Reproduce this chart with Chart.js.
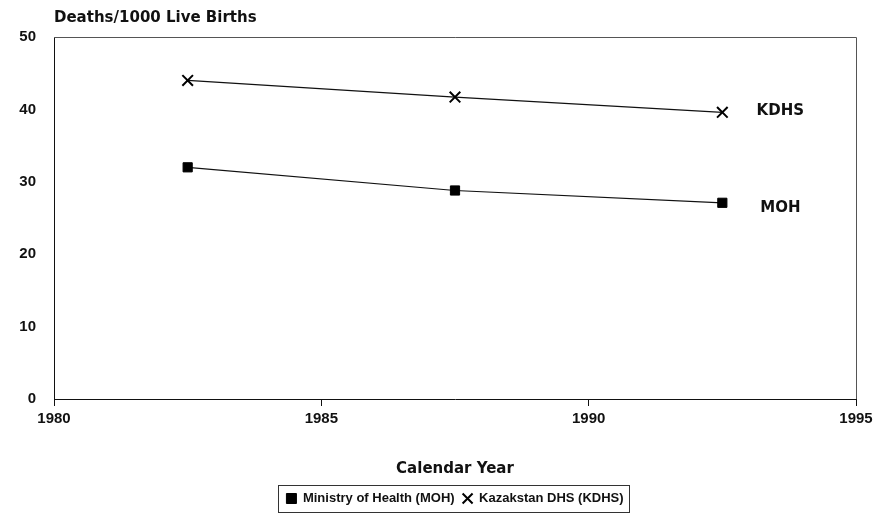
<!DOCTYPE html>
<html>
<head>
<meta charset="utf-8">
<script src="https://cdn.jsdelivr.net/npm/chart.js@4/dist/chart.umd.min.js"></script>
<style>
html,body{margin:0;padding:0;background:#fff;}
#wrap{width:877px;height:515px;}
</style>
</head>
<body>
<div id="wrap"><canvas id="c" width="877" height="515"></canvas></div>
<script>
const years = [1982.5, 1987.5, 1992.5];
const mohValues = [32.0, 28.8, 27.1];
const kdhsValues = [44.0, 41.7, 39.6];
const seriesNames = ['Ministry of Health (MOH)', 'Kazakstan DHS (KDHS)'];
const endLabels = ['MOH', 'KDHS'];
const yTicks = [0, 10, 20, 30, 40, 50];
const xTicks = [1980, 1985, 1990, 1995];
const yTitle = 'Deaths/1000 Live Births';
const xTitle = 'Calendar Year';

const toPts = (xs, ys) => xs.map((x, i) => ({x: x, y: ys[i]}));

const framePlugin = {
  id: 'frame',
  afterDraw(chart) {
    const {ctx, chartArea: a} = chart;
    ctx.save();
    ctx.lineWidth = 1;
    ctx.strokeStyle = '#555';
    ctx.beginPath();
    ctx.moveTo(a.left, a.top + 0.5); ctx.lineTo(a.right + 0.5, a.top + 0.5);
    ctx.lineTo(a.right + 0.5, a.bottom);
    ctx.stroke();
    // y-axis title at top-left
    ctx.fillStyle = '#111';
    ctx.font = 'bold 15px "DejaVu Sans"';
    ctx.textAlign = 'left';
    ctx.textBaseline = 'middle';
    ctx.fillText(yTitle, a.left, a.top - 19);
    // end labels
    chart.data.datasets.forEach((ds, i) => {
      const meta = chart.getDatasetMeta(i);
      const last = meta.data[meta.data.length - 1];
      ctx.textAlign = 'center';
      ctx.fillText(endLabels[i], last.x + 58, last.y + (i === 0 ? 5 : -1));
    });
    // legend frame
    const lg = chart.legend;
    if (lg && lg.legendHitBoxes && lg.legendHitBoxes.length) {
      let l = Infinity, r = -Infinity, t = Infinity, b = -Infinity;
      lg.legendHitBoxes.forEach(h => {
        l = Math.min(l, h.left); r = Math.max(r, h.left + h.width);
        t = Math.min(t, h.top); b = Math.max(b, h.top + h.height);
      });
      ctx.strokeStyle = '#333';
      ctx.strokeRect(Math.round(l - 8) + 0.5, Math.round(t - 7) + 0.5, Math.round(r - l + 14), Math.round(b - t + 14));
    }
    ctx.restore();
  }
};

new Chart(document.getElementById('c'), {
  type: 'line',
  data: {
    datasets: [
      {
        label: seriesNames[0],
        data: toPts(years, mohValues),
        borderColor: '#111', backgroundColor: '#111',
        borderWidth: 1.2,
        pointStyle: 'rect', pointRadius: 6.5, pointBorderWidth: 1,
        pointBackgroundColor: '#000', pointBorderColor: '#000'
      },
      {
        label: seriesNames[1],
        data: toPts(years, kdhsValues),
        borderColor: '#111', backgroundColor: '#111',
        borderWidth: 1.2,
        pointStyle: 'crossRot', pointRadius: 7.5, pointBorderWidth: 2,
        pointBackgroundColor: '#000', pointBorderColor: '#000'
      }
    ]
  },
  options: {
    responsive: false,
    animation: false,
    devicePixelRatio: 1,
    layout: {padding: {top: 37, right: 21, left: 0, bottom: 0}},
    plugins: {
      title: {display: false},
      tooltip: {enabled: false},
      legend: {
        display: true,
        position: 'bottom',
        fullSize: false,
        labels: {
          usePointStyle: true,
          boxWidth: 10, boxHeight: 10,
          padding: 8,
          color: '#111',
          font: {family: '"Liberation Sans"', size: 13, weight: 'bold'}
        }
      }
    },
    scales: {
      x: {
        type: 'linear',
        min: 1980, max: 1995,
        afterBuildTicks: s => { s.ticks = xTicks.map(v => ({value: v})); },
        afterFit: s => { s.height = 85; },
        border: {display: true, color: '#111', width: 1},
        grid: {display: true, drawOnChartArea: false, drawTicks: true, tickLength: 7, color: '#111'},
        ticks: {color: '#111', padding: 4, font: {family: '"Liberation Sans"', size: 15, weight: 'bold'}, maxRotation: 0,
                callback: v => String(v)},
        title: {display: true, text: xTitle, color: '#111', font: {family: '"DejaVu Sans"', size: 15, weight: 'bold'}, padding: {top: 0, bottom: 6}}
      },
      y: {
        type: 'linear',
        min: 0, max: 50,
        afterBuildTicks: s => { s.ticks = yTicks.map(v => ({value: v})); },
        afterFit: s => { s.width = 54; },
        border: {display: true, color: '#111', width: 1},
        grid: {display: false, drawTicks: false},
        ticks: {color: '#111', padding: 18, font: {family: '"Liberation Sans"', size: 15, weight: 'bold'},
                callback: v => String(v)}
      }
    }
  },
  plugins: [framePlugin]
});
</script>
</body>
</html>
